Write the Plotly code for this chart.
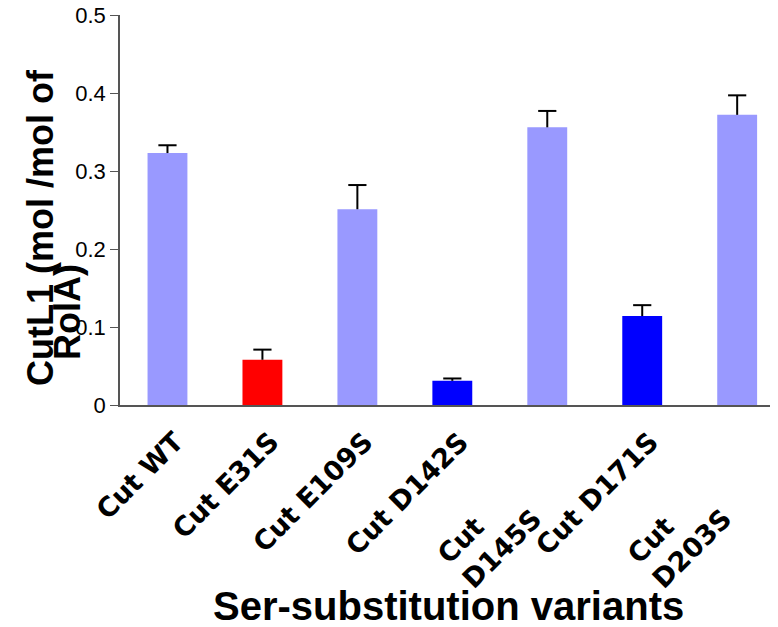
import plotly.graph_objects as go

categories = ["Cut WT", "Cut E31S", "Cut E109S", "Cut D142S", "Cut<br>D145S", "Cut D171S", "Cut<br>D203S"]
values = [0.323, 0.058, 0.251, 0.031, 0.356, 0.114, 0.372]
errors = [0.010, 0.013, 0.031, 0.003, 0.021, 0.014, 0.025]
colors = ["#9999FF", "#FF0000", "#9999FF", "#0000FF", "#9999FF", "#0000FF", "#9999FF"]
y_ticks = [0, 0.1, 0.2, 0.3, 0.4, 0.5]
y_tick_labels = ["0", "0.1", "0.2", "0.3", "0.4", "0.5"]
y_title_lines = ["CutL1 (mol /mol of", "RolA)"]
x_title = "Ser-substitution variants"

# page has an 8px body margin; figure is sized to fill the rest of the window
OFF = 8
W, H = 770, 619
L, R, T, B = 112, 0, 7, 222
PW, PH = W - L - R, H - T - B


def px_x(page_x):
    return (page_x - OFF - L) / PW


def px_y(page_y):
    return (H - B - (page_y - OFF)) / PH


xs = list(range(len(categories)))

fig = go.Figure()
fig.add_trace(go.Bar(
    x=xs, y=values, width=0.42,
    marker=dict(color=colors, line=dict(width=0)),
    hoverinfo="skip",
))

# upper-only error bars (stem + top cap)
stem_x, stem_y = [], []
for i, (v, e) in enumerate(zip(values, errors)):
    stem_x += [i, i, None]
    stem_y += [v, v + e, None]
fig.add_trace(go.Scatter(x=stem_x, y=stem_y, mode="lines",
                         line=dict(color="black", width=2), hoverinfo="skip"))
fig.add_trace(go.Scatter(x=xs, y=[v + e for v, e in zip(values, errors)], mode="markers",
                         marker=dict(symbol="line-ew", size=13, line=dict(color="black", width=2)),
                         hoverinfo="skip"))

fig.update_layout(
    width=W, height=H,
    margin=dict(l=L, r=R, t=T, b=B, autoexpand=False),
    plot_bgcolor="white", paper_bgcolor="white",
    showlegend=False,
    font=dict(family="DejaVu Sans", color="black"),
)
fig.update_xaxes(
    tickmode="array", tickvals=xs, showticklabels=False,
    range=[-0.5, 6.43], automargin=False,
    showline=True, linecolor="#555", linewidth=1.5, ticks="", showgrid=False,
)
fig.update_yaxes(
    range=[0, 0.5], tickmode="array", tickvals=y_ticks, ticktext=y_tick_labels,
    automargin=False, ticklabeloverflow="allow",
    tickfont=dict(family="Liberation Sans", size=22, color="black"),
    showline=True, linecolor="#555", linewidth=1.5, ticks="outside", ticklen=8,
    tickcolor="#555", showgrid=False, zeroline=False,
)

# rotated category labels (left-aligned lines, like the original)
label_font = dict(family="DejaVu Sans", size=27, color="black", weight="bold")
for i, lab in enumerate(categories):
    multi = "<br>" in lab
    fig.add_annotation(text=lab, textangle=-45, align="left",
                       xref="x", yref="paper", x=i,
                       y=px_y(475 if multi else 423),
                       xshift=3 if multi else 25,
                       xanchor="right", yanchor="top",
                       showarrow=False, font=label_font)

title_font = dict(family="Liberation Sans", size=36, color="black", weight="bold")
fig.add_annotation(text=y_title_lines[0], textangle=-90, xref="paper", yref="paper",
                   x=px_x(40), y=px_y(228), xanchor="center", yanchor="middle",
                   showarrow=False, font=title_font)
fig.add_annotation(text=y_title_lines[1], textangle=-90, xref="paper", yref="paper",
                   x=px_x(67), y=px_y(312), xanchor="center", yanchor="middle",
                   showarrow=False, font=title_font)
fig.add_annotation(text=x_title, xref="paper", yref="paper",
                   x=px_x(448), y=px_y(606), xanchor="center", yanchor="middle",
                   showarrow=False,
                   font=dict(family="Liberation Sans", size=40, color="black", weight="bold"))

fig.write_html("out.html")
